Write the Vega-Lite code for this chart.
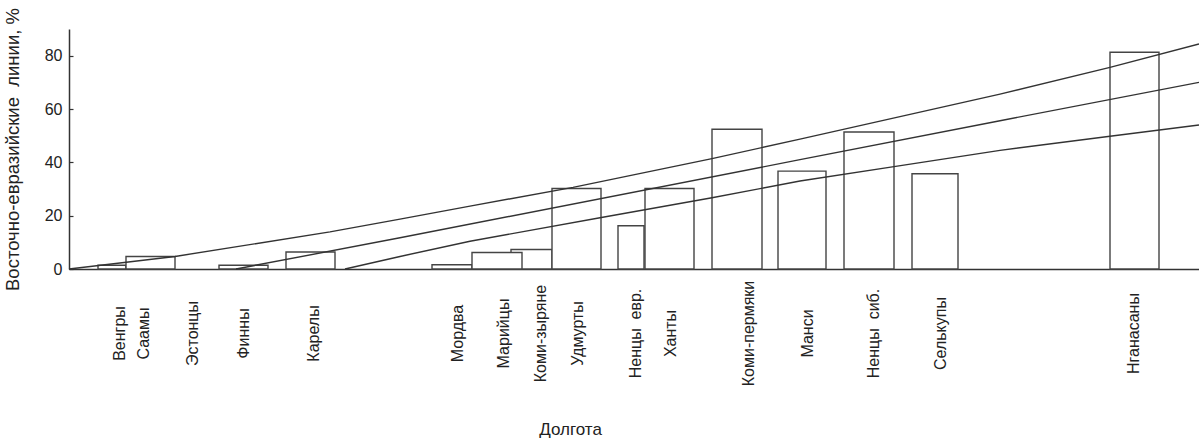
{
  "$schema": "https://vega.github.io/schema/vega-lite/v6.json",
  "autosize": {"type": "none"},
  "padding": {"left": 69, "top": 29, "right": 0, "bottom": 171},
  "width": 1130,
  "height": 240,
  "background": "white",
  "config": {
    "font": "Liberation Sans",
    "view": {"stroke": null},
    "axis": {
      "domainColor": "#333333",
      "domainWidth": 1.5,
      "tickColor": "#333333",
      "tickWidth": 1.2,
      "labelColor": "#222222",
      "titleColor": "#222222",
      "labelFontSize": 16,
      "titleFontWeight": "normal",
      "grid": false
    }
  },
  "datasets": {
    "groups": [
      {"name": "Венгры", "lon_start": 2.9, "lon_end": 5.7, "pct": 1.4},
      {"name": "Саамы", "lon_start": 5.7, "lon_end": 10.6, "pct": 4.7},
      {"name": "Финны", "lon_start": 15.0, "lon_end": 19.9, "pct": 1.4},
      {"name": "Карелы", "lon_start": 21.7, "lon_end": 26.6, "pct": 6.4},
      {"name": "Мордва", "lon_start": 36.3, "lon_end": 40.3, "pct": 1.6},
      {"name": "Коми-зыряне", "lon_start": 44.2, "lon_end": 48.3, "pct": 7.3},
      {"name": "Марийцы", "lon_start": 40.3, "lon_end": 45.3, "pct": 6.2},
      {"name": "Удмурты", "lon_start": 48.3, "lon_end": 53.2, "pct": 30.2},
      {"name": "Ненцы евр.", "lon_start": 54.9, "lon_end": 57.5, "pct": 16.2},
      {"name": "Ханты", "lon_start": 57.6, "lon_end": 62.5, "pct": 30.2},
      {"name": "Коми-пермяки", "lon_start": 64.3, "lon_end": 69.3, "pct": 52.4},
      {"name": "Манси", "lon_start": 70.9, "lon_end": 75.7, "pct": 36.7},
      {"name": "Ненцы сиб.", "lon_start": 77.5, "lon_end": 82.5, "pct": 51.4},
      {"name": "Селькупы", "lon_start": 84.3, "lon_end": 88.9, "pct": 35.7},
      {"name": "Нганасаны", "lon_start": 104.1, "lon_end": 109.0, "pct": 81.3}
    ],
    "trends": [
      {"curve": "upper", "lon": 0, "pct": 0},
      {"curve": "upper", "lon": 10.6, "pct": 4.7},
      {"curve": "upper", "lon": 26.1, "pct": 13.9},
      {"curve": "upper", "lon": 33.1, "pct": 18.7},
      {"curve": "upper", "lon": 40.1, "pct": 23.6},
      {"curve": "upper", "lon": 50.4, "pct": 30.6},
      {"curve": "upper", "lon": 64.3, "pct": 41.4},
      {"curve": "upper", "lon": 73.1, "pct": 48.7},
      {"curve": "upper", "lon": 93.1, "pct": 65.6},
      {"curve": "upper", "lon": 104.1, "pct": 75.6},
      {"curve": "upper", "lon": 113, "pct": 84.4},
      {"curve": "middle", "lon": 16.7, "pct": 0},
      {"curve": "middle", "lon": 33.1, "pct": 11.7},
      {"curve": "middle", "lon": 73.1, "pct": 41.0},
      {"curve": "middle", "lon": 93.1, "pct": 55.6},
      {"curve": "middle", "lon": 113, "pct": 70.0},
      {"curve": "lower", "lon": 27.6, "pct": 0},
      {"curve": "lower", "lon": 33.1, "pct": 4.7},
      {"curve": "lower", "lon": 40.1, "pct": 10.4},
      {"curve": "lower", "lon": 53.1, "pct": 19.2},
      {"curve": "lower", "lon": 64.3, "pct": 26.7},
      {"curve": "lower", "lon": 73.1, "pct": 33.0},
      {"curve": "lower", "lon": 82.5, "pct": 38.4},
      {"curve": "lower", "lon": 93.1, "pct": 44.5},
      {"curve": "lower", "lon": 104.1, "pct": 49.8},
      {"curve": "lower", "lon": 113, "pct": 54.0}
    ]
  },
  "layer": [
    {
      "data": {"name": "groups"},
      "mark": {"type": "rect", "fill": "white", "stroke": "#444444", "strokeWidth": 1.4},
      "encoding": {
        "x": {
          "field": "lon_start",
          "type": "quantitative",
          "scale": {"domain": [0, 113], "nice": false, "zero": false},
          "axis": {
            "title": "Долгота",
            "titleFontSize": 17,
            "titleX": 501,
            "titleY": 152,
            "titleBaseline": "top",
            "ticks": false,
            "values": [5.0, 7.4, 12.3, 17.4, 24.4, 38.8, 43.4, 47.1, 50.8, 56.6, 60.1, 67.9, 73.8, 80.4, 87.1, 106.4],
            "labelExpr": "['Венгры','Саамы','Эстонцы','Финны','Карелы','Мордва','Марийцы','Коми-зыряне','Удмурты','Ненцы\u00a0\u00a0евр.','Ханты','Коми-пермяки','Манси','Ненцы\u00a0\u00a0сиб.','Селькупы','Нганасаны'][indexof([5.0, 7.4, 12.3, 17.4, 24.4, 38.8, 43.4, 47.1, 50.8, 56.6, 60.1, 67.9, 73.8, 80.4, 87.1, 106.4], datum.value)]",
            "labelAngle": 270,
            "labelAlign": "center",
            "labelBaseline": "middle",
            "labelPadding": 64,
            "labelOverlap": false,
            "labelBound": false,
            "labelFlush": false
          }
        },
        "x2": {"field": "lon_end"},
        "y": {
          "field": "pct",
          "type": "quantitative",
          "scale": {"domain": [0, 90], "nice": false},
          "axis": {
            "title": "Восточно-евразийские\u00a0\u00a0линии, %",
            "titleFontSize": 18.5,
            "titlePadding": 22,
            "values": [0, 10, 20, 30, 40, 50, 60, 70, 80, 90],
            "labelExpr": "datum.value % 20 === 0 && datum.value < 90 ? datum.label : ''",
            "tickSize": -4,
            "labelPadding": 11
          }
        },
        "y2": {"datum": 0}
      }
    },
    {
      "data": {"name": "trends"},
      "mark": {"type": "line", "stroke": "#333333", "strokeWidth": 1.4, "clip": false},
      "encoding": {
        "x": {"field": "lon", "type": "quantitative"},
        "y": {"field": "pct", "type": "quantitative"},
        "detail": {"field": "curve"}
      }
    }
  ]
}
